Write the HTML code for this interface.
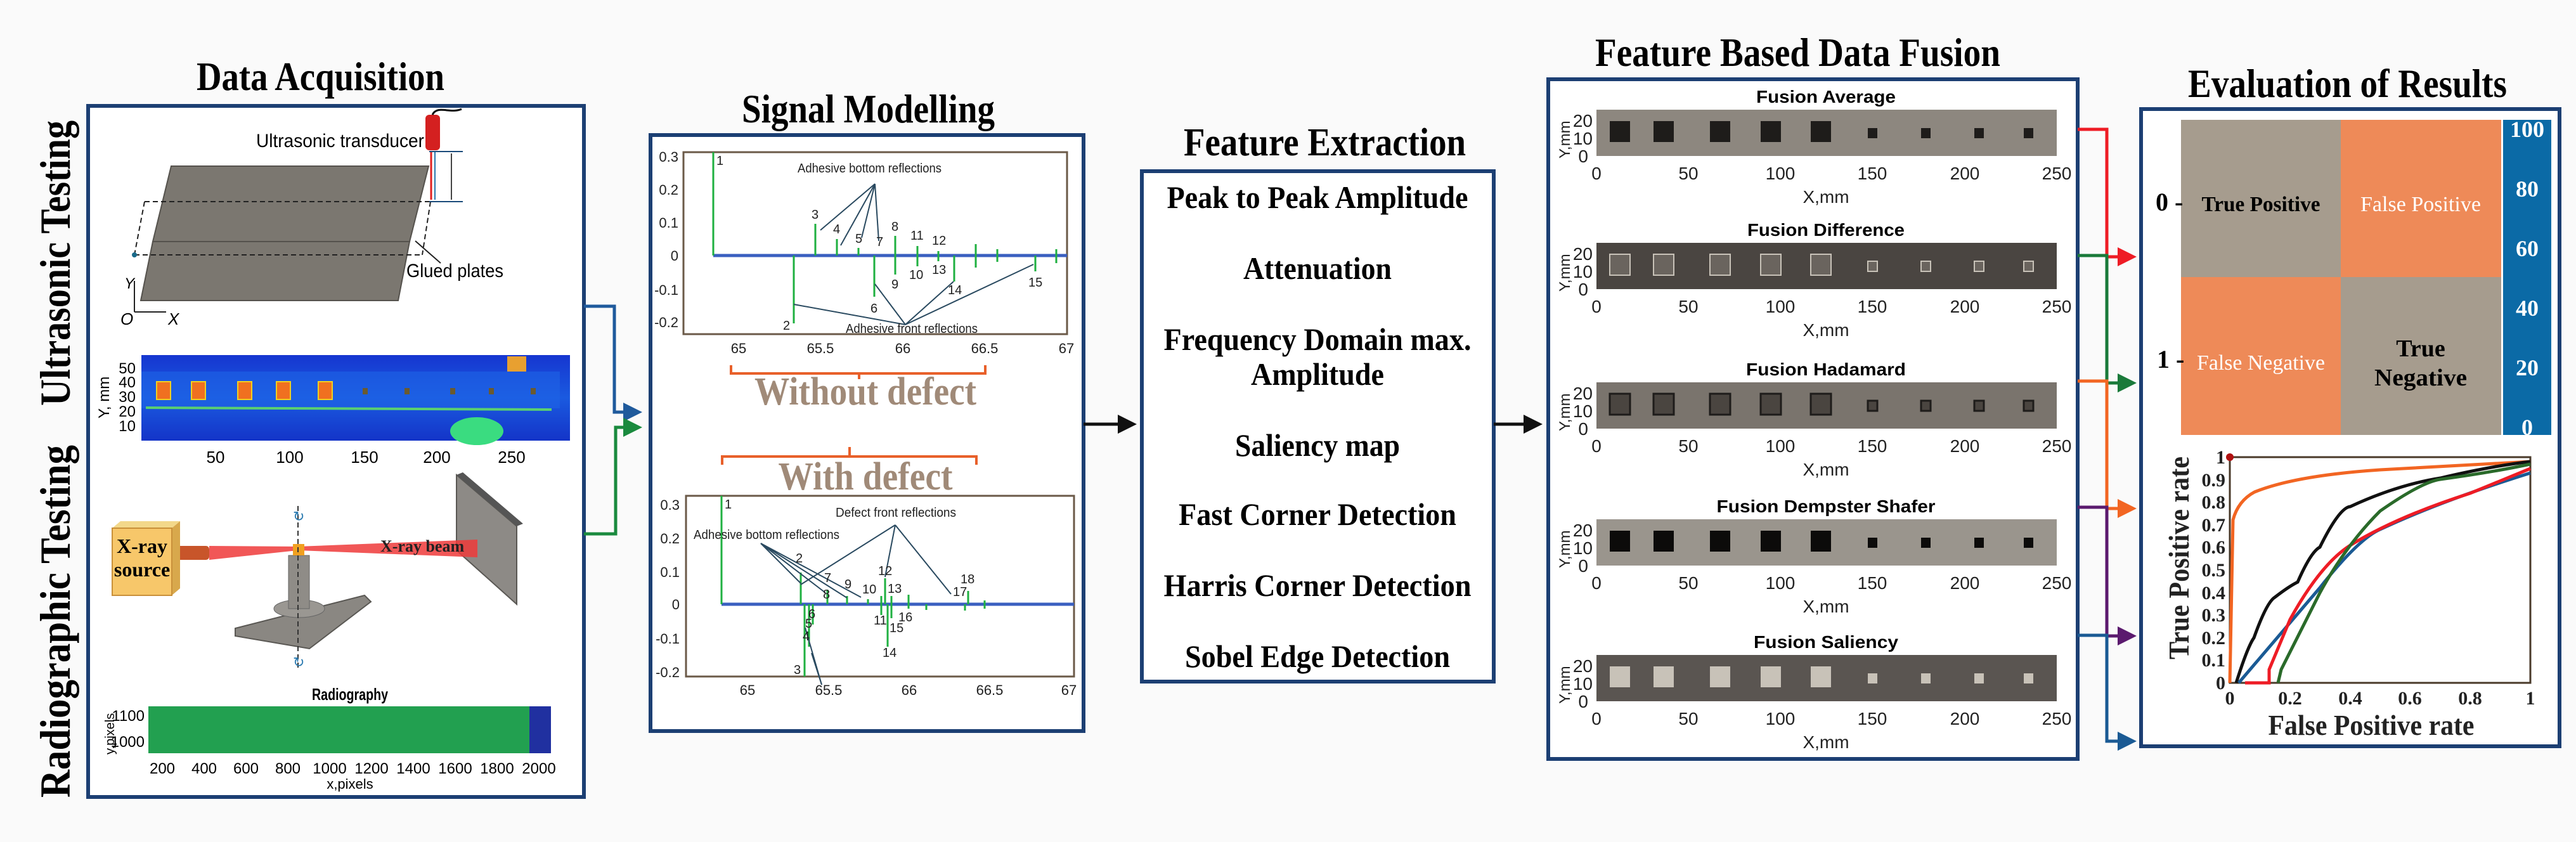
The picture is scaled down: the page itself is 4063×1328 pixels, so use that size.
<!DOCTYPE html>
<html><head><meta charset="utf-8"><style>
html,body{margin:0;padding:0;background:#fafafa;}
svg{display:block;}
.t{font-family:"Liberation Serif",serif;font-weight:bold;}
.s{font-family:"Liberation Sans",sans-serif;}
</style></head><body>
<svg xmlns="http://www.w3.org/2000/svg" width="4063" height="1328" viewBox="0 0 4063 1328">
<defs>
<marker id="ab" markerWidth="6" markerHeight="6" refX="5" refY="3" orient="auto" markerUnits="strokeWidth"><path d="M0,0L6,3L0,6z" fill="#1f5a9c"/></marker>
<marker id="ag" markerWidth="6" markerHeight="6" refX="5" refY="3" orient="auto" markerUnits="strokeWidth"><path d="M0,0L6,3L0,6z" fill="#1a8a3e"/></marker>
<marker id="ak" markerWidth="6" markerHeight="6" refX="5" refY="3" orient="auto" markerUnits="strokeWidth"><path d="M0,0L6,3L0,6z" fill="#111"/></marker>
<marker id="ar" markerWidth="6" markerHeight="6" refX="5" refY="3" orient="auto" markerUnits="strokeWidth"><path d="M0,0L6,3L0,6z" fill="#ee1c25"/></marker>
<marker id="ag2" markerWidth="6" markerHeight="6" refX="5" refY="3" orient="auto" markerUnits="strokeWidth"><path d="M0,0L6,3L0,6z" fill="#1a7a3a"/></marker>
<marker id="ao" markerWidth="6" markerHeight="6" refX="5" refY="3" orient="auto" markerUnits="strokeWidth"><path d="M0,0L6,3L0,6z" fill="#f26522"/></marker>
<marker id="ap" markerWidth="6" markerHeight="6" refX="5" refY="3" orient="auto" markerUnits="strokeWidth"><path d="M0,0L6,3L0,6z" fill="#5b1a6e"/></marker>
<marker id="abl" markerWidth="6" markerHeight="6" refX="5" refY="3" orient="auto" markerUnits="strokeWidth"><path d="M0,0L6,3L0,6z" fill="#1a5a94"/></marker>
<linearGradient id="th" x1="0" y1="0" x2="0" y2="1"><stop offset="0" stop-color="#1636d0"/><stop offset="0.5" stop-color="#1a5ae0"/><stop offset="1" stop-color="#1434c8"/></linearGradient>
</defs>
<rect width="4063" height="1328" fill="#fafafa"/>

<!-- Titles -->
<text class="t" x="310" y="142" font-size="64" textLength="391" lengthAdjust="spacingAndGlyphs">Data Acquisition</text>
<text class="t" x="1170" y="193" font-size="64" textLength="399" lengthAdjust="spacingAndGlyphs">Signal Modelling</text>
<text class="t" x="1867" y="245" font-size="62" textLength="445" lengthAdjust="spacingAndGlyphs">Feature Extraction</text>
<text class="t" x="2516" y="104" font-size="64" textLength="639" lengthAdjust="spacingAndGlyphs">Feature Based Data Fusion</text>
<text class="t" x="3451" y="153" font-size="64" textLength="503" lengthAdjust="spacingAndGlyphs">Evaluation of Results</text>
<text class="t" font-size="68" transform="translate(110,640) rotate(-90)" textLength="450" lengthAdjust="spacingAndGlyphs">Ultrasonic Testing</text>
<text class="t" font-size="68" transform="translate(110,1258) rotate(-90)" textLength="556" lengthAdjust="spacingAndGlyphs">Radiographic Testing</text>

<!-- Boxes -->
<rect x="139" y="167" width="782" height="1090" fill="#fff" stroke="#1c3f73" stroke-width="6"/>
<rect x="1026" y="213" width="683" height="940" fill="#fff" stroke="#1c3f73" stroke-width="6"/>
<rect x="1801" y="270" width="555" height="805" fill="#fff" stroke="#1c3f73" stroke-width="6"/>
<rect x="2442" y="125" width="835" height="1072" fill="#fff" stroke="#1c3f73" stroke-width="6"/>
<rect x="3377" y="172" width="660" height="1005" fill="#fff" stroke="#1c3f73" stroke-width="6"/>

<!-- Data acquisition: ultrasonic -->
<polygon points="270,262 676,262 646,381 241,381" fill="#7b7770" stroke="#55524d" stroke-width="2"/>
<polygon points="241,381 646,381 628,474 222,474" fill="#7b7770" stroke="#55524d" stroke-width="2"/>
<g stroke="#222" stroke-width="2" stroke-dasharray="8,5" fill="none">
<line x1="228" y1="318" x2="679" y2="318"/><line x1="212" y1="402" x2="666" y2="402"/>
<line x1="228" y1="318" x2="212" y2="402"/><line x1="679" y1="318" x2="666" y2="402"/></g>
<circle cx="212" cy="402" r="4" fill="#1a6a8a"/>
<rect x="671" y="181" width="23" height="56" rx="6" fill="#d42020"/>
<path d="M682,181 C690,165 710,180 728,172" stroke="#111" stroke-width="3" fill="none"/>
<line x1="677" y1="239" x2="730" y2="239" stroke="#1a4a7a" stroke-width="2"/>
<line x1="677" y1="318" x2="730" y2="318" stroke="#1a4a7a" stroke-width="2"/>
<line x1="712" y1="242" x2="712" y2="315" stroke="#444" stroke-width="2"/>
<line x1="680" y1="240" x2="680" y2="315" stroke="#e02020" stroke-width="3"/>
<line x1="686" y1="240" x2="686" y2="315" stroke="#2a7ab0" stroke-width="2"/>
<text class="s" x="404" y="232" font-size="30" textLength="265" lengthAdjust="spacingAndGlyphs">Ultrasonic transducer</text>
<line x1="655" y1="380" x2="695" y2="415" stroke="#222" stroke-width="2"/>
<text class="s" x="641" y="437" font-size="30" textLength="153" lengthAdjust="spacingAndGlyphs">Glued plates</text>
<path d="M212,492 L212,443 M212,492 L262,492" stroke="#222" stroke-width="2" fill="none"/>
<text class="s" x="190" y="512" font-size="26" font-style="italic">O</text>
<text class="s" x="265" y="512" font-size="26" font-style="italic">X</text>
<text class="s" x="196" y="455" font-size="24" font-style="italic">Y</text>
<!-- thermal -->
<rect x="223" y="560" width="676" height="135" fill="url(#th)"/>
<rect x="223" y="586" width="660" height="58" fill="#1e64e6" opacity="0.6"/>
<line x1="230" y1="643" x2="870" y2="646" stroke="#5ad070" stroke-width="4"/>
<ellipse cx="752" cy="680" rx="42" ry="22" fill="#3adc80"/>
<rect x="800" y="562" width="30" height="24" fill="#e8a030"/>
<g fill="#f07020" stroke="#f0d020" stroke-width="2">
<rect x="247" y="602" width="22" height="28"/><rect x="302" y="602" width="22" height="28"/><rect x="375" y="602" width="22" height="28"/><rect x="436" y="602" width="22" height="28"/><rect x="502" y="602" width="22" height="28"/></g>
<g fill="#6a5a30"><rect x="572" y="612" width="8" height="10"/><rect x="638" y="612" width="8" height="10"/><rect x="710" y="612" width="8" height="10"/><rect x="771" y="612" width="8" height="10"/><rect x="837" y="612" width="8" height="10"/></g>
<g class="s" font-size="24" text-anchor="end"><text x="214" y="589">50</text><text x="214" y="611">40</text><text x="214" y="634">30</text><text x="214" y="657">20</text><text x="214" y="680">10</text></g>
<text class="s" font-size="24" transform="translate(172,660) rotate(-90)">Y, mm</text>
<g class="s" font-size="26" text-anchor="middle"><text x="340" y="730">50</text><text x="457" y="730">100</text><text x="575" y="730">150</text><text x="689" y="730">200</text><text x="807" y="730">250</text></g>
<!-- x-ray -->
<polygon points="720,749 815,830 815,953 720,868" fill="#8d8a86" stroke="#5a5854" stroke-width="2"/>
<polygon points="720,749 730,745 825,826 815,830" fill="#555"/>
<polygon points="330,861 470,862 753,851 753,879 470,868 330,883" fill="#ee3a3a" opacity="0.85"/>
<rect x="279" y="861" width="51" height="22" rx="5" fill="#c8552a"/>
<polygon points="177,833 190,822 284,822 271,833" fill="#f3d88a"/>
<polygon points="271,833 284,822 284,928 271,939" fill="#d8a84c"/>
<rect x="177" y="833" width="94" height="106" fill="#f7c76a" stroke="#c9903a" stroke-width="2"/>
<text class="t" x="224" y="872" font-size="32" text-anchor="middle">X-ray</text>
<text class="t" x="224" y="909" font-size="32" text-anchor="middle">source</text>
<text class="t" x="600" y="870" font-size="26" font-weight="normal" fill="#222">X-ray beam</text>
<polygon points="371,991 575,939 585,949 488,1023 371,1003" fill="#8a8782" stroke="#5a5854" stroke-width="2"/>
<ellipse cx="472" cy="960" rx="40" ry="14" fill="#9a9792" stroke="#666"/>
<rect x="455" y="876" width="33" height="84" fill="#8f8c87" stroke="#666"/>
<rect x="462" y="858" width="18" height="18" fill="#f0a020"/>
<line x1="470" y1="798" x2="470" y2="1058" stroke="#333" stroke-width="2" stroke-dasharray="8,5"/>
<text x="462" y="822" font-size="22" fill="#2a7ab0">↻</text><text x="462" y="1052" font-size="22" fill="#2a7ab0">↻</text>
<!-- radiography -->
<text class="s" x="552" y="1104" font-size="26" font-weight="bold" text-anchor="middle" textLength="120" lengthAdjust="spacingAndGlyphs">Radiography</text>
<rect x="234" y="1114" width="635" height="74" fill="#22a050"/>
<rect x="835" y="1114" width="34" height="74" fill="#2030a0"/>
<g class="s" font-size="24" text-anchor="end"><text x="228" y="1137">1100</text><text x="228" y="1178">1000</text></g>
<text class="s" font-size="20" transform="translate(180,1190) rotate(-90)">y,pixels</text>
<g class="s" font-size="24" text-anchor="middle"><text x="256" y="1220">200</text><text x="322" y="1220">400</text><text x="388" y="1220">600</text><text x="454" y="1220">800</text><text x="520" y="1220">1000</text><text x="586" y="1220">1200</text><text x="652" y="1220">1400</text><text x="718" y="1220">1600</text><text x="784" y="1220">1800</text><text x="850" y="1220">2000</text></g>
<text class="s" x="552" y="1244" font-size="22" text-anchor="middle">x,pixels</text>

<!-- connectors DA->SM -->
<polyline points="921,483 969,483 969,650 1008,650" fill="none" stroke="#1f5a9c" stroke-width="5" marker-end="url(#ab)"/>
<polyline points="921,842 971,842 971,674 1008,674" fill="none" stroke="#1a8a3e" stroke-width="5" marker-end="url(#ag)"/>

<!-- Plot 1 -->
<rect x="1078" y="240" width="605" height="287" fill="#fff" stroke="#6b5a48" stroke-width="3"/>
<line x1="1125" y1="403" x2="1683" y2="403" stroke="#3a5fc0" stroke-width="5"/>
<g stroke="#1fb040" stroke-width="3">
<line x1="1125" y1="403" x2="1125" y2="240"/><line x1="1252" y1="403" x2="1252" y2="510"/><line x1="1286" y1="403" x2="1286" y2="353"/><line x1="1320" y1="403" x2="1320" y2="377"/><line x1="1354" y1="403" x2="1354" y2="391"/><line x1="1379" y1="403" x2="1379" y2="468"/><line x1="1412" y1="372" x2="1412" y2="433"/><line x1="1447" y1="388" x2="1447" y2="420"/><line x1="1480" y1="396" x2="1480" y2="412"/><line x1="1505" y1="403" x2="1505" y2="444"/><line x1="1539" y1="385" x2="1539" y2="422"/><line x1="1573" y1="393" x2="1573" y2="413"/><line x1="1633" y1="403" x2="1633" y2="428"/><line x1="1666" y1="393" x2="1666" y2="415"/></g>
<g stroke="#2a4a60" stroke-width="2"><line x1="1380" y1="290" x2="1294" y2="363"/><line x1="1380" y1="290" x2="1326" y2="387"/><line x1="1380" y1="290" x2="1359" y2="375"/><line x1="1380" y1="290" x2="1386" y2="380"/>
<line x1="1428" y1="512" x2="1252" y2="480"/><line x1="1428" y1="512" x2="1380" y2="448"/><line x1="1428" y1="512" x2="1504" y2="444"/><line x1="1428" y1="512" x2="1630" y2="417"/></g>
<g class="s" font-size="20" fill="#222">
<text x="1258" y="272" textLength="227" lengthAdjust="spacingAndGlyphs">Adhesive bottom reflections</text>
<text x="1334" y="525" textLength="208" lengthAdjust="spacingAndGlyphs">Adhesive front reflections</text>
<text x="1130" y="260">1</text><text x="1235" y="520">2</text><text x="1280" y="345">3</text><text x="1314" y="368">4</text><text x="1349" y="383">5</text><text x="1373" y="493">6</text><text x="1382" y="388">7</text><text x="1406" y="364">8</text><text x="1406" y="455">9</text><text x="1434" y="440">10</text><text x="1436" y="378">11</text><text x="1470" y="386">12</text><text x="1470" y="432">13</text><text x="1495" y="464">14</text><text x="1622" y="452">15</text></g>
<g class="s" font-size="22" text-anchor="end" fill="#222"><text x="1070" y="255">0.3</text><text x="1070" y="307">0.2</text><text x="1070" y="359">0.1</text><text x="1070" y="411">0</text><text x="1070" y="465">-0.1</text><text x="1070" y="516">-0.2</text></g>
<g class="s" font-size="22" text-anchor="middle" fill="#222"><text x="1165" y="557">65</text><text x="1294" y="557">65.5</text><text x="1424" y="557">66</text><text x="1553" y="557">66.5</text><text x="1682" y="557">67</text></g>
<path d="M1153,576 L1153,589 L1554,589 L1554,576 M1355,589 L1355,598" stroke="#e8602a" stroke-width="4" fill="none"/>
<text class="t" x="1365" y="638" font-size="62" fill="#a08a78" text-anchor="middle" textLength="350" lengthAdjust="spacingAndGlyphs">Without defect</text>
<path d="M1139,733 L1139,720 L1540,720 L1540,733 M1340,720 L1340,705" stroke="#e8602a" stroke-width="4" fill="none"/>
<text class="t" x="1365" y="772" font-size="62" fill="#a08a78" text-anchor="middle" textLength="275" lengthAdjust="spacingAndGlyphs">With defect</text>

<!-- Plot 2 -->
<rect x="1082" y="782" width="612" height="285" fill="#fff" stroke="#6b5a48" stroke-width="3"/>
<line x1="1138" y1="953" x2="1694" y2="953" stroke="#3a5fc0" stroke-width="5"/>
<g stroke="#1fb040" stroke-width="3">
<line x1="1138" y1="953" x2="1138" y2="782"/><line x1="1263" y1="953" x2="1263" y2="903"/><line x1="1269" y1="953" x2="1269" y2="1067"/><line x1="1276" y1="953" x2="1276" y2="1020"/><line x1="1282" y1="953" x2="1282" y2="985"/><line x1="1305" y1="930" x2="1305" y2="953"/><line x1="1336" y1="940" x2="1336" y2="953"/><line x1="1369" y1="945" x2="1369" y2="953"/><line x1="1390" y1="940" x2="1390" y2="970"/><line x1="1396" y1="912" x2="1396" y2="953"/><line x1="1400" y1="953" x2="1400" y2="1020"/><line x1="1406" y1="940" x2="1406" y2="975"/><line x1="1433" y1="938" x2="1433" y2="960"/><line x1="1461" y1="953" x2="1461" y2="962"/><line x1="1522" y1="953" x2="1522" y2="963"/><line x1="1527" y1="932" x2="1527" y2="953"/><line x1="1553" y1="947" x2="1553" y2="960"/></g>
<g stroke="#2a4a60" stroke-width="2"><line x1="1200" y1="857" x2="1263" y2="920"/><line x1="1200" y1="857" x2="1302" y2="935"/><line x1="1200" y1="857" x2="1336" y2="943"/><line x1="1200" y1="857" x2="1358" y2="942"/>
<line x1="1412" y1="828" x2="1263" y2="922"/><line x1="1412" y1="828" x2="1396" y2="910"/><line x1="1412" y1="828" x2="1500" y2="937"/>
<line x1="1296" y1="1080" x2="1270" y2="990"/><line x1="1296" y1="1080" x2="1280" y2="1030"/></g>
<g class="s" font-size="20" fill="#222">
<text x="1318" y="815" textLength="190" lengthAdjust="spacingAndGlyphs">Defect front reflections</text>
<text x="1094" y="850" textLength="230" lengthAdjust="spacingAndGlyphs">Adhesive bottom reflections</text>
<text x="1143" y="802">1</text><text x="1255" y="887">2</text><text x="1300" y="918">7</text><text x="1298" y="944">8</text><text x="1332" y="928">9</text><text x="1360" y="936">10</text><text x="1385" y="907">12</text><text x="1400" y="935">13</text><text x="1378" y="985">11</text><text x="1403" y="997">15</text><text x="1417" y="980">16</text><text x="1392" y="1036">14</text><text x="1275" y="975">6</text><text x="1270" y="990">5</text><text x="1266" y="1010">4</text><text x="1252" y="1063">3</text><text x="1503" y="940">17</text><text x="1515" y="920">18</text></g>
<g class="s" font-size="22" text-anchor="end" fill="#222"><text x="1072" y="804">0.3</text><text x="1072" y="857">0.2</text><text x="1072" y="910">0.1</text><text x="1072" y="961">0</text><text x="1072" y="1015">-0.1</text><text x="1072" y="1068">-0.2</text></g>
<g class="s" font-size="22" text-anchor="middle" fill="#222"><text x="1179" y="1096">65</text><text x="1307" y="1096">65.5</text><text x="1434" y="1096">66</text><text x="1561" y="1096">66.5</text><text x="1686" y="1096">67</text></g>

<!-- SM -> FE -> Fusion -->
<line x1="1709" y1="669" x2="1788" y2="669" stroke="#111" stroke-width="5" marker-end="url(#ak)"/>
<line x1="2356" y1="669" x2="2428" y2="669" stroke="#111" stroke-width="5" marker-end="url(#ak)"/>

<!-- FE items -->
<g class="t" font-size="50" text-anchor="middle">
<text x="2078" y="328" textLength="475" lengthAdjust="spacingAndGlyphs">Peak to Peak Amplitude</text>
<text x="2078" y="440" textLength="234" lengthAdjust="spacingAndGlyphs">Attenuation</text>
<text x="2078" y="552" textLength="485" lengthAdjust="spacingAndGlyphs">Frequency Domain max.</text>
<text x="2078" y="607" textLength="210" lengthAdjust="spacingAndGlyphs">Amplitude</text>
<text x="2078" y="719" textLength="260" lengthAdjust="spacingAndGlyphs">Saliency map</text>
<text x="2078" y="828" textLength="438" lengthAdjust="spacingAndGlyphs">Fast Corner Detection</text>
<text x="2078" y="940" textLength="485" lengthAdjust="spacingAndGlyphs">Harris Corner Detection</text>
<text x="2078" y="1052" textLength="418" lengthAdjust="spacingAndGlyphs">Sobel Edge Detection</text></g>

<!-- Fusion panels -->
<g class="s">
<g transform="translate(0,0)">
<text x="2880" y="162" font-size="28" font-weight="bold" text-anchor="middle" textLength="220" lengthAdjust="spacingAndGlyphs">Fusion Average</text>
<rect x="2518" y="173" width="726" height="73" fill="#8d877f"/>
<g fill="#1e1c1a"><rect x="2539" y="191" width="32" height="33"/><rect x="2608" y="191" width="32" height="33"/><rect x="2697" y="191" width="32" height="33"/><rect x="2777" y="191" width="32" height="33"/><rect x="2856" y="191" width="32" height="33"/><rect x="2946" y="202" width="15" height="16"/><rect x="3030" y="202" width="15" height="16"/><rect x="3114" y="202" width="15" height="16"/><rect x="3192" y="202" width="15" height="16"/></g></g>
<g transform="translate(0,210)">
<text x="2880" y="162" font-size="28" font-weight="bold" text-anchor="middle" textLength="248" lengthAdjust="spacingAndGlyphs">Fusion Difference</text>
<rect x="2518" y="173" width="726" height="73" fill="#4a4541"/>
<g fill="#6a645e" stroke="#c8c2b8" stroke-width="2"><rect x="2539" y="191" width="32" height="33"/><rect x="2608" y="191" width="32" height="33"/><rect x="2697" y="191" width="32" height="33"/><rect x="2777" y="191" width="32" height="33"/><rect x="2856" y="191" width="32" height="33"/><rect x="2946" y="202" width="15" height="16"/><rect x="3030" y="202" width="15" height="16"/><rect x="3114" y="202" width="15" height="16"/><rect x="3192" y="202" width="15" height="16"/></g></g>
<g transform="translate(0,430)">
<text x="2880" y="162" font-size="28" font-weight="bold" text-anchor="middle" textLength="252" lengthAdjust="spacingAndGlyphs">Fusion Hadamard</text>
<rect x="2518" y="173" width="726" height="73" fill="#7a746d"/>
<g fill="#4a4540" stroke="#1e1c1a" stroke-width="3"><rect x="2539" y="191" width="32" height="33"/><rect x="2608" y="191" width="32" height="33"/><rect x="2697" y="191" width="32" height="33"/><rect x="2777" y="191" width="32" height="33"/><rect x="2856" y="191" width="32" height="33"/><rect x="2946" y="202" width="15" height="16"/><rect x="3030" y="202" width="15" height="16"/><rect x="3114" y="202" width="15" height="16"/><rect x="3192" y="202" width="15" height="16"/></g></g>
<g transform="translate(0,646)">
<text x="2880" y="162" font-size="28" font-weight="bold" text-anchor="middle" textLength="345" lengthAdjust="spacingAndGlyphs">Fusion Dempster Shafer</text>
<rect x="2518" y="173" width="726" height="73" fill="#9a958d"/>
<g fill="#0c0b0a"><rect x="2539" y="191" width="32" height="33"/><rect x="2608" y="191" width="32" height="33"/><rect x="2697" y="191" width="32" height="33"/><rect x="2777" y="191" width="32" height="33"/><rect x="2856" y="191" width="32" height="33"/><rect x="2946" y="202" width="15" height="16"/><rect x="3030" y="202" width="15" height="16"/><rect x="3114" y="202" width="15" height="16"/><rect x="3192" y="202" width="15" height="16"/></g></g>
<g transform="translate(0,860)">
<text x="2880" y="162" font-size="28" font-weight="bold" text-anchor="middle" textLength="228" lengthAdjust="spacingAndGlyphs">Fusion Saliency</text>
<rect x="2518" y="173" width="726" height="73" fill="#5a5551"/>
<g fill="#c8c2b8"><rect x="2539" y="191" width="32" height="33"/><rect x="2608" y="191" width="32" height="33"/><rect x="2697" y="191" width="32" height="33"/><rect x="2777" y="191" width="32" height="33"/><rect x="2856" y="191" width="32" height="33"/><rect x="2946" y="202" width="15" height="16"/><rect x="3030" y="202" width="15" height="16"/><rect x="3114" y="202" width="15" height="16"/><rect x="3192" y="202" width="15" height="16"/></g></g>
</g>
<g class="s" font-size="28" fill="#222">
<g id="ax">
<g text-anchor="end"><text x="2512" y="200">20</text><text x="2512" y="228">10</text><text x="2505" y="256">0</text></g>
<text transform="translate(2476,250) rotate(-90)" font-size="24">Y,mm</text>
<g text-anchor="middle"><text x="2518" y="283">0</text><text x="2663" y="283">50</text><text x="2808" y="283">100</text><text x="2953" y="283">150</text><text x="3099" y="283">200</text><text x="3244" y="283">250</text></g>
<text x="2880" y="320" text-anchor="middle">X,mm</text></g>
<use href="#ax" transform="translate(0,210)"/>
<use href="#ax" transform="translate(0,430)"/>
<use href="#ax" transform="translate(0,646)"/>
<use href="#ax" transform="translate(0,860)"/>
</g>

<!-- Fusion -> Eval connectors -->
<g fill="none" stroke-width="5">
<polyline points="3277,204 3323,204 3323,405 3365,405" stroke="#ee1c25" marker-end="url(#ar)"/>
<polyline points="3277,403 3323,403 3323,604 3365,604" stroke="#1a7a3a" marker-end="url(#ag2)"/>
<polyline points="3277,601 3323,601 3323,802 3365,802" stroke="#f26522" marker-end="url(#ao)"/>
<polyline points="3277,800 3323,800 3323,1003 3365,1003" stroke="#5b1a6e" marker-end="url(#ap)"/>
<polyline points="3277,1002 3323,1002 3323,1169 3365,1169" stroke="#1a5a94" marker-end="url(#abl)"/>
</g>

<!-- Confusion matrix -->
<rect x="3440" y="189" width="252" height="248" fill="#a69c8e"/>
<rect x="3692" y="189" width="253" height="248" fill="#ee8a58"/>
<rect x="3440" y="437" width="252" height="249" fill="#ee8a58"/>
<rect x="3692" y="437" width="253" height="249" fill="#a69c8e"/>
<rect x="3948" y="189" width="76" height="497" fill="#0b6aa6"/>
<g class="t" font-size="34">
<text x="3566" y="333" text-anchor="middle" textLength="187" lengthAdjust="spacingAndGlyphs">True Positive</text>
<text x="3818" y="333" text-anchor="middle" fill="#fff" font-weight="normal" textLength="190" lengthAdjust="spacingAndGlyphs">False Positive</text>
<text x="3566" y="583" text-anchor="middle" fill="#fff" font-weight="normal" textLength="202" lengthAdjust="spacingAndGlyphs">False Negative</text>
<text x="3818" y="562" text-anchor="middle" font-size="38">True</text>
<text x="3818" y="608" text-anchor="middle" font-size="38" textLength="146" lengthAdjust="spacingAndGlyphs">Negative</text>
<text x="3400" y="332" font-size="40">0 -</text>
<text x="3402" y="580" font-size="40">1 -</text>
</g>
<g class="t" font-size="36" fill="#fff" font-weight="normal" text-anchor="middle"><text x="3986" y="216">100</text><text x="3986" y="310">80</text><text x="3986" y="404">60</text><text x="3986" y="498">40</text><text x="3986" y="592">20</text><text x="3986" y="686">0</text></g>

<!-- ROC -->
<rect x="3517" y="721" width="474" height="356" fill="#fff" stroke="#4a3a2a" stroke-width="3"/>
<circle cx="3517" cy="721" r="6" fill="#b01010"/>
<g fill="none" stroke-width="5">
<path d="M3517,1077 L3522,820 Q3530,790 3556,776 Q3620,750 3754,741 L3991,728" stroke="#f26522"/>
<path d="M3527,1077 Q3545,1020 3555,1006 Q3575,950 3588,942 Q3610,925 3624,918 Q3645,870 3659,863 Q3690,800 3707,799 Q3780,765 3849,754 Q3930,735 3991,728" stroke="#111"/>
<path d="M3531,1077 L3659,927 Q3720,850 3754,835 Q3850,790 3991,746" stroke="#1a5a94"/>
<path d="M3541,1077 L3579,1077 L3579,1056 L3612,977 Q3660,890 3707,860 Q3780,815 3896,778 L3991,739" stroke="#ee1c25"/>
<path d="M3593,1077 L3598,1056 L3659,935 Q3700,860 3754,806 Q3820,760 3849,756 Q3930,745 3991,732" stroke="#2a6a2a"/>
</g>
<g class="t" font-size="30" font-weight="normal" fill="#222">
<g text-anchor="end"><text x="3510" y="731">1</text><text x="3510" y="767">0.9</text><text x="3510" y="802">0.8</text><text x="3510" y="838">0.7</text><text x="3510" y="873">0.6</text><text x="3510" y="909">0.5</text><text x="3510" y="945">0.4</text><text x="3510" y="980">0.3</text><text x="3510" y="1016">0.2</text><text x="3510" y="1051">0.1</text><text x="3510" y="1087">0</text></g>
<g text-anchor="middle"><text x="3517" y="1111">0</text><text x="3612" y="1111">0.2</text><text x="3707" y="1111">0.4</text><text x="3801" y="1111">0.6</text><text x="3896" y="1111">0.8</text><text x="3991" y="1111">1</text></g>
<text x="3740" y="1159" font-size="46" text-anchor="middle" textLength="325" lengthAdjust="spacingAndGlyphs">False Positive rate</text>
<text transform="translate(3452,1040) rotate(-90)" font-size="46" textLength="320" lengthAdjust="spacingAndGlyphs">True Positive rate</text>
</g>
</svg>
</body></html>
